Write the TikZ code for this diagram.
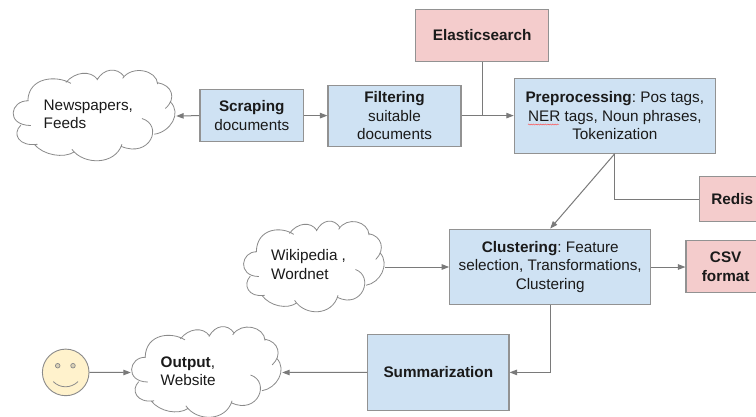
\documentclass[tikz,border=0pt]{standalone}
\usepackage{fontspec}
\setmainfont{Liberation Sans}
\usetikzlibrary{arrows.meta,decorations.pathmorphing}
\definecolor{boxblue}{HTML}{CFE2F3}
\definecolor{boxpink}{HTML}{F4CCCC}
\definecolor{boxedge}{HTML}{929292}
\definecolor{linkgray}{HTML}{7A7A7A}
\definecolor{cloudedge}{HTML}{8A8A8A}
\definecolor{facefill}{HTML}{FFF2CC}
\definecolor{txt}{HTML}{1A1A1A}
\newcommand{\cloudshape}{%
 (85,302) .. controls (30,300) and (15,375) .. (92,376)
 (62,375) .. controls (35,400) and (55,440) .. (112,432)
 (102,432) .. controls (130,465) and (190,475) .. (222,455)
 (215,447) .. controls (250,495) and (345,495) .. (365,432)
 (425,355) .. controls (490,375) and (450,475) .. (362,438)
 (462,402) .. controls (510,395) and (545,340) .. (510,305)
 (495,325) .. controls (530,295) and (515,255) .. (472,248)
 (472,252) .. controls (470,210) and (395,195) .. (367,235)
 (372,230) .. controls (350,200) and (310,205) .. (290,240)
 (197,247) .. controls (225,215) and (270,210) .. (292,238)
 (212,250) .. controls (170,225) and (85,230) .. (83,302)}
\newcommand{\cloudat}[4]{% left, top, width, height in picture units
 \begin{scope}[shift={(#1pt,-#2pt)},x=#3pt/490,y=-#4pt/275]
  \begin{scope}[shift={(-37,-210)}]
   \fill[white] (83,302) -- (290,225) -- (470,240) -- (520,340) -- (360,470) -- (110,440) -- (50,340) -- cycle;
   \draw[cloudedge,line width=0.8pt] \cloudshape;
  \end{scope}
 \end{scope}}
\tikzset{
 every node/.style={font=\fontsize{15.3}{18.3}\selectfont\frenchspacing,text=txt},
 bluebox/.style={draw=boxedge,fill=boxblue,line width=1.1pt,align=center,inner sep=0pt},
 pinkbox/.style={draw=boxedge,fill=boxpink,line width=1.1pt,align=center,inner sep=0pt},
 cloudbox/.style={inner sep=0pt},
 cloudtext/.style={align=left,inner sep=0pt,anchor=west},
 link/.style={draw=linkgray,line width=1pt},
 arrowlink/.style={link,-{Triangle[length=7.5pt,width=5.5pt]}}
}
\begin{document}
\begin{tikzpicture}[x=1pt,y=-1pt]
\clip (0,0) rectangle (756,416);
\fill[white] (0,0) rectangle (756,416);
% clouds
\cloudat{12.5}{70}{163.5}{92}
\cloudat{243}{221}{142}{92}
\cloudat{131}{326.5}{151}{92}
\node[cloudbox,minimum width=163.5pt,minimum height=92pt] (c1) at (94.25,116) {};
\node[cloudbox,minimum width=142pt,minimum height=92pt] (c2) at (314,267) {};
\node[cloudbox,minimum width=151pt,minimum height=92pt] (c3) at (206.5,372.5) {};
\node[cloudtext] (c1t) at (43.5,114) {Newspapers,\\Feeds};
\node[cloudtext] (c2t) at (271,264.5) {Wikipedia ,\\Wordnet};
\node[cloudtext] (c3t) at (160.5,371.5) {\textbf{Output},\\Website};
% boxes
\node[bluebox,minimum width=103.5pt,minimum height=52pt] (scrape) at (251.75,115.6) {\textbf{Scraping}\\documents};
\node[bluebox,minimum width=133pt,minimum height=61pt] (filter) at (394.5,115.6) {\textbf{Filtering}\\suitable\\documents};
\node[pinkbox,minimum width=133pt,minimum height=51.5pt] (elastic) at (482.2,35.3) {\textbf{Elasticsearch}};
\node[bluebox,minimum width=201pt,minimum height=75pt] (prep) at (614.8,115.6) {\textbf{Preprocessing}: Pos tags,\\NER tags, Noun phrases,\\Tokenization};
\node[pinkbox,minimum width=65pt,minimum height=45.7pt] (redis) at (732.2,199) {\textbf{Redis}};
\node[bluebox,minimum width=201pt,minimum height=75.7pt] (clust) at (550.2,267) {\textbf{Clustering}: Feature\\selection, Transformations,\\Clustering};
\node[pinkbox,minimum width=79.4pt,minimum height=52pt] (csv) at (725.7,266.7) {\textbf{CSV}\\\textbf{format}};
\node[bluebox,minimum width=141.3pt,minimum height=75.3pt] (summ) at (438.35,372.4) {\textbf{Summarization}};
\node[draw=cloudedge,fill=facefill,circle,line width=0.9pt,minimum size=46.6pt,inner sep=0pt] (face) at (65.7,372.4) {};
% face details
\draw[cloudedge,fill=facefill!70!gray,line width=0.7pt] (57.7,365.7) circle (2.3);
\draw[cloudedge,fill=facefill!70!gray,line width=0.7pt] (73,365.7) circle (2.3);
\draw[cloudedge,line width=0.8pt] (53.3,381.6) .. controls (60,388.5) and (71,388.5) .. (78,381.6);
% spell-check squiggle
\draw[red!70!white,line width=0.45pt,decorate,decoration={snake,amplitude=0.5pt,segment length=2.4pt}] (528,124.5) -- (559,124.5);
% connectors
\draw[arrowlink] (scrape.west) -- (c1.east);
\draw[arrowlink] (scrape.east) -- (filter.west);
\draw[arrowlink] (filter.east) -- (prep.west);
\draw[link] (elastic.south) -- (elastic.south |- filter.east);
\draw[arrowlink] (prep.south) -- (clust.north);
\draw[link] (prep.south) |- (redis.west);
\draw[arrowlink] (c2.east) -- (clust.west);
\draw[arrowlink] (clust.east) -- (csv.west |- clust.east);
\draw[arrowlink] (clust.south) |- (summ.east);
\draw[arrowlink] (summ.west) -- (c3.east);
\draw[arrowlink] (face.east) -- (c3.west);
\end{tikzpicture}
\end{document}
